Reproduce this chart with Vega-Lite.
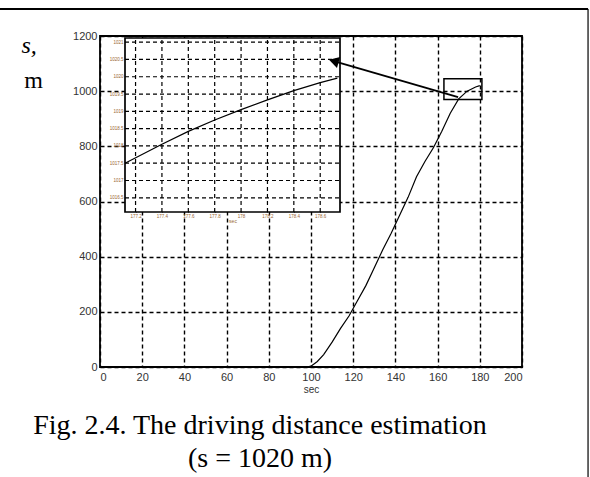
{
  "$schema": "https://vega.github.io/schema/vega-lite/v6.json",
  "width": 422,
  "height": 331,
  "autosize": "none",
  "padding": {"left": 100, "top": 36, "right": 68, "bottom": 110},
  "background": "white",
  "title": {
    "text": "Fig. 2.4. The driving distance estimation",
    "subtitle": "(s = 1020 m)",
    "orient": "bottom",
    "anchor": "middle",
    "frame": "group",
    "dx": -51,
    "dy": -78,
    "offset": 12,
    "font": "Liberation Serif",
    "fontSize": 28,
    "fontWeight": "normal",
    "color": "black",
    "subtitleFont": "Liberation Serif",
    "subtitleFontSize": 28,
    "subtitleColor": "black",
    "subtitlePadding": 5
  },
  "datasets": {
    "curve": [
      {"t": 98, "s": 0}, {"t": 100, "s": 3}, {"t": 103, "s": 20}, {"t": 106, "s": 45},
      {"t": 110, "s": 90}, {"t": 114, "s": 140}, {"t": 118, "s": 185}, {"t": 122, "s": 240},
      {"t": 126, "s": 295}, {"t": 130, "s": 360}, {"t": 134, "s": 425}, {"t": 138, "s": 485},
      {"t": 142, "s": 550}, {"t": 146, "s": 615}, {"t": 150, "s": 690}, {"t": 154, "s": 745},
      {"t": 158, "s": 795}, {"t": 162, "s": 855}, {"t": 166, "s": 920}, {"t": 170, "s": 972},
      {"t": 174, "s": 1000}, {"t": 178, "s": 1015}, {"t": 180, "s": 1020}
    ],
    "inset": [
      {"t": 177.12, "s": 1017.5}, {"t": 177.4, "s": 1018.05}, {"t": 177.6, "s": 1018.42},
      {"t": 177.8, "s": 1018.75}, {"t": 178.0, "s": 1019.05}, {"t": 178.2, "s": 1019.33},
      {"t": 178.4, "s": 1019.6}, {"t": 178.6, "s": 1019.83}, {"t": 178.73, "s": 1019.96}
    ],
    "igx": [
      {"v": 177.2}, {"v": 177.4}, {"v": 177.6}, {"v": 177.8},
      {"v": 178.0}, {"v": 178.2}, {"v": 178.4}, {"v": 178.6}
    ],
    "igy": [
      {"v": 1016.5}, {"v": 1017}, {"v": 1017.5}, {"v": 1018}, {"v": 1018.5},
      {"v": 1019}, {"v": 1019.5}, {"v": 1020}, {"v": 1020.5}, {"v": 1021}
    ],
    "one": [{}]
  },
  "layer": [
    {
      "data": {"name": "curve"},
      "mark": {"type": "line", "color": "black", "strokeWidth": 1.2},
      "encoding": {
        "x": {
          "field": "t", "type": "quantitative",
          "scale": {"domain": [0, 200], "nice": false, "zero": false},
          "axis": {
            "orient": "bottom",
            "values": [0, 20, 40, 60, 80, 100, 120, 140, 160, 180, 200],
            "format": "d",
            "grid": true, "gridColor": "black", "gridDash": [4, 3], "gridWidth": 1.4, "gridOpacity": 1,
            "domain": false, "ticks": false,
            "labelFont": "Liberation Sans", "labelFontSize": 11, "labelColor": "#333", "labelPadding": 4,
            "title": "sec", "titleFont": "Liberation Sans", "titleFontSize": 10, "titleFontWeight": "normal",
            "titleColor": "#333", "titlePadding": 2
          }
        },
        "y": {
          "field": "s", "type": "quantitative",
          "scale": {"domain": [0, 1200], "nice": false, "zero": false},
          "axis": {
            "orient": "left",
            "values": [0, 200, 400, 600, 800, 1000, 1200],
            "format": "d",
            "grid": true, "gridColor": "black", "gridDash": [4, 3], "gridWidth": 1.4, "gridOpacity": 1,
            "domain": false, "ticks": false,
            "labelFont": "Liberation Sans", "labelFontSize": 11, "labelColor": "#333", "labelPadding": 3,
            "title": "m", "titleFont": "Liberation Serif", "titleFontSize": 24, "titleFontWeight": "normal",
            "titleColor": "black", "titleAngle": 0, "titleAlign": "center", "titleBaseline": "alphabetic",
            "titleX": -67, "titleY": 51
          }
        }
      }
    },
    {
      "data": {"name": "one"},
      "mark": {"type": "rect", "fillOpacity": 0, "stroke": "black", "strokeWidth": 1.5},
      "encoding": {
        "x": {"datum": 163, "type": "quantitative", "scale": {"domain": [0, 200], "nice": false, "zero": false}, "axis": null},
        "x2": {"datum": 181},
        "y": {"datum": 970, "type": "quantitative", "scale": {"domain": [0, 1200], "nice": false, "zero": false}, "axis": null},
        "y2": {"datum": 1045}
      }
    },
    {
      "data": {"name": "one"},
      "mark": {"type": "rect", "fill": "white", "stroke": "black", "strokeWidth": 1.7},
      "encoding": {
        "x": {"datum": 177.12, "type": "quantitative", "scale": {"domain": [177.12, 178.75], "range": [25, 240], "nice": false, "zero": false}, "axis": null},
        "x2": {"datum": 178.75},
        "y": {"datum": 1016.09, "type": "quantitative", "scale": {"domain": [1016.09, 1021.12], "range": [176, 2], "nice": false, "zero": false}, "axis": null},
        "y2": {"datum": 1021.12}
      }
    },
    {
      "data": {"name": "igx"},
      "mark": {"type": "rule", "color": "black", "strokeDash": [4, 3], "strokeWidth": 1.2},
      "encoding": {
        "x": {"field": "v", "type": "quantitative", "scale": {"domain": [177.12, 178.75], "range": [25, 240], "nice": false, "zero": false}, "axis": null},
        "y": {"datum": 1016.09, "type": "quantitative", "scale": {"domain": [1016.09, 1021.12], "range": [176, 2], "nice": false, "zero": false}, "axis": null},
        "y2": {"datum": 1021.12}
      }
    },
    {
      "data": {"name": "igy"},
      "mark": {"type": "rule", "color": "black", "strokeDash": [4, 3], "strokeWidth": 1.2},
      "encoding": {
        "y": {"field": "v", "type": "quantitative", "scale": {"domain": [1016.09, 1021.12], "range": [176, 2], "nice": false, "zero": false}, "axis": null},
        "x": {"datum": 177.12, "type": "quantitative", "scale": {"domain": [177.12, 178.75], "range": [25, 240], "nice": false, "zero": false}, "axis": null},
        "x2": {"datum": 178.75}
      }
    },
    {
      "data": {"name": "inset"},
      "mark": {"type": "line", "color": "black", "strokeWidth": 1.2},
      "encoding": {
        "x": {
          "field": "t", "type": "quantitative",
          "scale": {"domain": [177.12, 178.75], "range": [25, 240], "nice": false, "zero": false},
          "axis": {
            "orient": "bottom", "offset": -155,
            "values": [177.2, 177.4, 177.6, 177.8, 178.0, 178.2, 178.4, 178.6],
            "format": ".1~f", "grid": false, "domain": false,
            "ticks": true, "tickSize": -3, "tickColor": "black", "tickWidth": 1,
            "labelFont": "Liberation Sans", "labelFontSize": 4.5, "labelColor": "#996633", "labelPadding": 4,
            "title": "sec", "titleFont": "Liberation Sans", "titleFontSize": 5, "titleFontWeight": "normal",
            "titleColor": "#996633", "titlePadding": 1
          }
        },
        "y": {
          "field": "s", "type": "quantitative",
          "scale": {"domain": [1016.09, 1021.12], "range": [176, 2], "nice": false, "zero": false},
          "axis": {
            "orient": "left", "offset": -25,
            "values": [1016.5, 1017, 1017.5, 1018, 1018.5, 1019, 1019.5, 1020, 1020.5, 1021],
            "format": ".1~f", "grid": false, "domain": false,
            "ticks": true, "tickSize": -3, "tickColor": "black", "tickWidth": 1,
            "labelFont": "Liberation Sans", "labelFontSize": 4.5, "labelColor": "#996633", "labelPadding": 5,
            "title": null
          }
        }
      }
    },
    {
      "data": {"name": "one"},
      "mark": {"type": "rule", "color": "black", "strokeWidth": 1.8},
      "encoding": {
        "x": {"datum": 169.7, "type": "quantitative", "scale": {"domain": [0, 200], "nice": false, "zero": false}, "axis": null},
        "x2": {"datum": 110.8},
        "y": {
          "datum": 978.8, "type": "quantitative",
          "scale": {"domain": [0, 1200], "nice": false, "zero": false},
          "axis": {
            "orient": "left", "labels": false, "ticks": false, "domain": false, "grid": false,
            "title": "s,", "titleFont": "Liberation Serif", "titleFontSize": 24, "titleFontStyle": "italic",
            "titleFontWeight": "normal", "titleColor": "black", "titleAngle": 0, "titleAlign": "left",
            "titleBaseline": "alphabetic", "titleX": -79, "titleY": 16
          }
        },
        "y2": {"datum": 1109}
      }
    },
    {
      "data": {"name": "one"},
      "mark": {"type": "point", "shape": "triangle-left", "filled": true, "color": "black", "opacity": 1, "size": 130, "angle": 16},
      "encoding": {
        "x": {"datum": 110.8, "type": "quantitative", "scale": {"domain": [0, 200], "nice": false, "zero": false}, "axis": null},
        "y": {"datum": 1109, "type": "quantitative", "scale": {"domain": [0, 1200], "nice": false, "zero": false}, "axis": null}
      }
    },
    {
      "data": {"name": "one"},
      "mark": {"type": "rule", "color": "black", "strokeWidth": 2.2},
      "encoding": {
        "x": {"datum": -47.4, "type": "quantitative", "scale": {"domain": [0, 200], "nice": false, "zero": false}, "axis": null},
        "x2": {"datum": 231.3},
        "y": {"datum": 1297.9, "type": "quantitative", "scale": {"domain": [0, 1200], "nice": false, "zero": false}, "axis": null}
      }
    },
    {
      "data": {"name": "one"},
      "mark": {"type": "rule", "color": "black", "strokeWidth": 1.2},
      "encoding": {
        "x": {"datum": 231.3, "type": "quantitative", "scale": {"domain": [0, 200], "nice": false, "zero": false}, "axis": null},
        "y": {"datum": 1297.9, "type": "quantitative", "scale": {"domain": [0, 1200], "nice": false, "zero": false}, "axis": null},
        "y2": {"datum": -398.8}
      }
    }
  ],
  "resolve": {"scale": {"x": "independent", "y": "independent"}},
  "config": {
    "view": {"stroke": "black", "strokeWidth": 1.8},
    "axis": {"labelOverlap": false}
  }
}
